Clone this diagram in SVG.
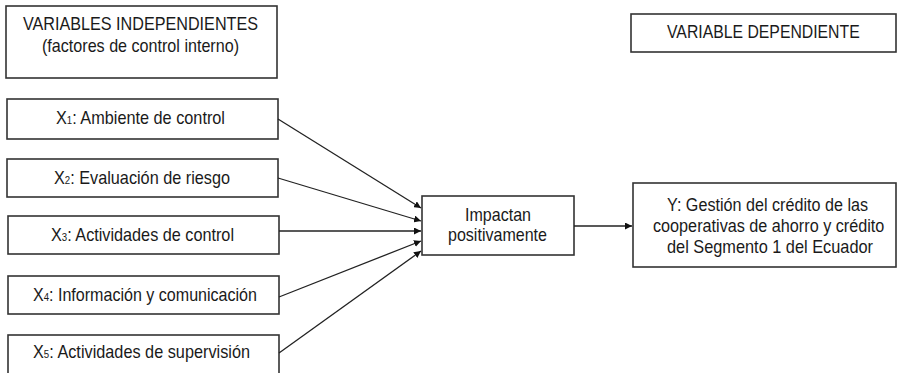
<svg xmlns="http://www.w3.org/2000/svg" width="897" height="373" viewBox="0 0 897 373">
<style>
.box{fill:#fff;stroke:#333;stroke-width:1.6}
.t{font-family:"Liberation Sans",Arial,sans-serif;font-size:18.5px;fill:#1a1a1a}
.s{font-size:11px}
.c{fill:none;stroke:#222;stroke-width:1.3}
</style>
<defs>
<marker id="ah" viewBox="0 0 10 10" refX="10" refY="5" markerWidth="7" markerHeight="7" markerUnits="userSpaceOnUse" orient="auto">
<path d="M0,0 L10,5 L0,10 z" fill="#111"/>
</marker>
</defs>
<rect width="897" height="373" fill="#fff"/>
<g id="indep">
<rect class="box" x="6" y="6" width="271" height="72"/>
<text class="t" x="23" y="30" textLength="235" lengthAdjust="spacingAndGlyphs">VARIABLES INDEPENDIENTES</text>
<text class="t" x="42" y="52" textLength="197" lengthAdjust="spacingAndGlyphs">(factores de control interno)</text>
</g>
<g id="dep">
<rect class="box" x="631" y="14" width="265" height="38"/>
<text class="t" transform="translate(667,38) scale(0.854,1)" x="0" y="0">VARIABLE DEPENDIENTE</text>
</g>
<g id="x1">
<rect class="box" x="7" y="99" width="271" height="40"/>
<text class="t" x="56" y="124" textLength="169" lengthAdjust="spacingAndGlyphs">X<tspan class="s">1</tspan>: Ambiente de control</text>
</g>
<g id="x2">
<rect class="box" x="7" y="159" width="271" height="38"/>
<text class="t" x="54" y="184" textLength="176" lengthAdjust="spacingAndGlyphs">X<tspan class="s">2</tspan>: Evaluación de riesgo</text>
</g>
<g id="x3">
<rect class="box" x="8" y="216" width="271" height="38"/>
<text class="t" x="51" y="241" textLength="183" lengthAdjust="spacingAndGlyphs">X<tspan class="s">3</tspan>: Actividades de control</text>
</g>
<g id="x4">
<rect class="box" x="8" y="276" width="271" height="38"/>
<text class="t" x="33" y="301" textLength="224" lengthAdjust="spacingAndGlyphs">X<tspan class="s">4</tspan>: Información y comunicación</text>
</g>
<g id="x5">
<rect class="box" x="8" y="335" width="271" height="40"/>
<text class="t" x="33" y="358" textLength="217" lengthAdjust="spacingAndGlyphs">X<tspan class="s">5</tspan>: Actividades de supervisión</text>
</g>
<g id="impactan">
<rect class="box" x="422" y="196" width="152" height="59"/>
<text class="t" x="465" y="221" textLength="66" lengthAdjust="spacingAndGlyphs">Impactan</text>
<text class="t" x="448" y="241" textLength="99" lengthAdjust="spacingAndGlyphs">positivamente</text>
</g>
<g id="y">
<rect class="box" x="633" y="183" width="263" height="84"/>
<text class="t" transform="translate(667,211) scale(0.873,1)" x="0" y="0">Y: Gestión del crédito de las</text>
<text class="t" transform="translate(653,232) scale(0.8765,1)" x="0" y="0">cooperativas de ahorro y crédito</text>
<text class="t" transform="translate(667,253) scale(0.883,1)" x="0" y="0">del Segmento 1 del Ecuador</text>
</g>
<g id="connectors">
<line class="c" x1="278" y1="119" x2="421" y2="208" marker-end="url(#ah)"/>
<line class="c" x1="278" y1="178" x2="421" y2="221" marker-end="url(#ah)"/>
<line class="c" x1="279" y1="231" x2="421" y2="231" marker-end="url(#ah)"/>
<line class="c" x1="279" y1="297" x2="421" y2="241" marker-end="url(#ah)"/>
<line class="c" x1="279" y1="353" x2="421" y2="251" marker-end="url(#ah)"/>
<line class="c" x1="574" y1="226" x2="632" y2="226" marker-end="url(#ah)"/>
</g>
</svg>
